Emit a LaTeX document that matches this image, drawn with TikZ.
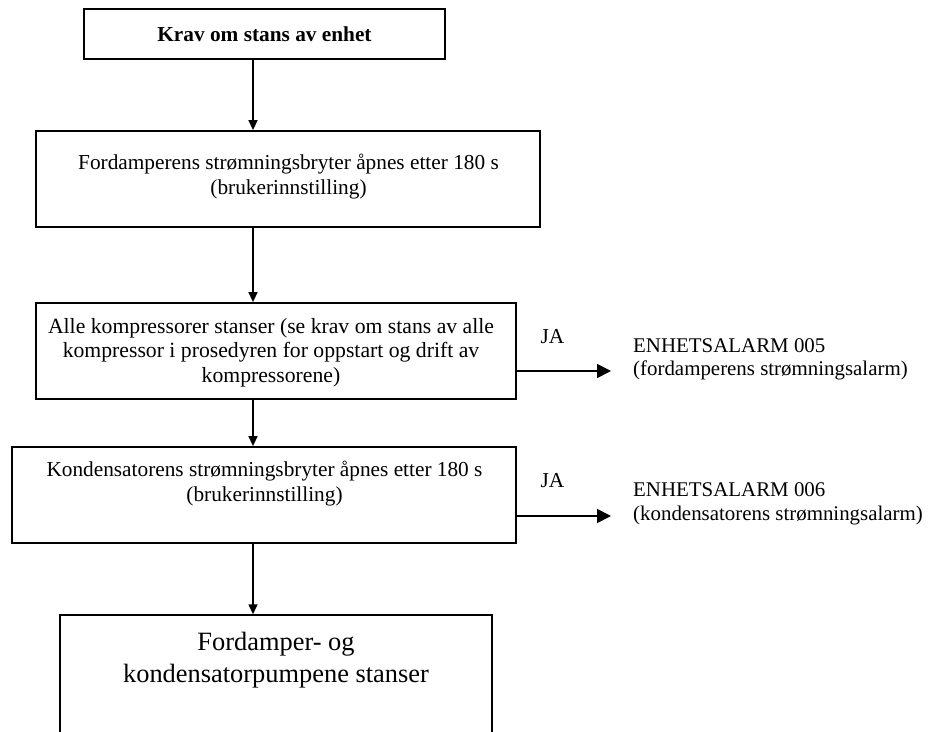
\documentclass[tikz,border=0pt]{standalone}
\usepackage{fontspec}
\setmainfont{Liberation Serif}
\usetikzlibrary{arrows.meta}

\begin{document}
\begin{tikzpicture}[x=1pt, y=-1pt,
    box/.style={draw, line width=1.8pt, inner sep=0pt},
    txt/.style={align=center, inner sep=0pt, font=\fontsize{21.3}{24.4}\selectfont},
    flow/.style={line width=1.4pt, -{Triangle[width=9pt,length=10pt]}},
    alarm/.style={line width=1.7pt, -{Triangle[width=14pt,length=14pt]}}]
      \def\spine{253}

      \useasboundingbox (0,0) rectangle (941,731);
      \clip (0,0) rectangle (941,731);

      \node[box, minimum width=361, minimum height=50,
        font=\bfseries\fontsize{21.3}{25}\selectfont] (krav) at (264.5,34) {Krav om stans av enhet};
      \node[box, minimum width=504, minimum height=96] (fordamper) at (288,179) {};
      \node[box, minimum width=480, minimum height=96] (komp) at (276,351) {};
      \node[box, minimum width=504, minimum height=96] (kondensator) at (264,495) {};
      \node[box, line width=1.4pt, minimum width=432, minimum height=165] (pumper) at (276,697.5) {};

      \node[txt, anchor=base] (fordampertxt) at (288.5,194)
        {Fordamperens strømningsbryter åpnes etter 180 s\\(brukerinnstilling)};
      \node[txt, anchor=base, font=\fontsize{21.7}{24.5}\selectfont] (komptxt) at (271,382)
        {Alle kompressorer stanser (se krav om stans av alle\\kompressor i prosedyren for oppstart og drift av\\kompressorene)};
      \node[txt, anchor=base] (kondensatortxt) at (264.5,501)
        {Kondensatorens strømningsbryter åpnes etter 180 s\\(brukerinnstilling)};
      \node[txt, anchor=base, font=\fontsize{26.4}{32}\selectfont] (pumpertxt) at (276,682)
        {Fordamper- og\\kondensatorpumpene stanser};

      \coordinate (spine) at (\spine,0);
      \draw[flow] (krav.south -| spine) -- (fordamper.north -| spine);
      \draw[flow] (fordamper.south -| spine) -- (komp.north -| spine);
      \draw[flow] (komp.south -| spine) -- (kondensator.north -| spine);
      \draw[flow] (kondensator.south -| spine) -- (pumper.north -| spine);

      \coordinate (a5) at (611,371);
      \coordinate (a6) at (611,516);
      \draw[alarm] (komp.east |- a5) -- (a5);
      \draw[alarm] (kondensator.east |- a6) -- (a6);

      \node[txt, anchor=base] (ja5) at (552.5,343) {JA};
      \node[txt, anchor=base] (ja6) at (552.5,487) {JA};
      \node[txt, align=left, anchor=base west, font=\fontsize{20.9}{23.5}\selectfont] (alarm5) at (633,375.5)
        {ENHETSALARM 005\\(fordamperens strømningsalarm)};
      \node[txt, align=left, anchor=base west, font=\fontsize{20.9}{23.5}\selectfont] (alarm6) at (633,520)
        {ENHETSALARM 006\\(kondensatorens strømningsalarm)};
    \end{tikzpicture}
\end{document}
